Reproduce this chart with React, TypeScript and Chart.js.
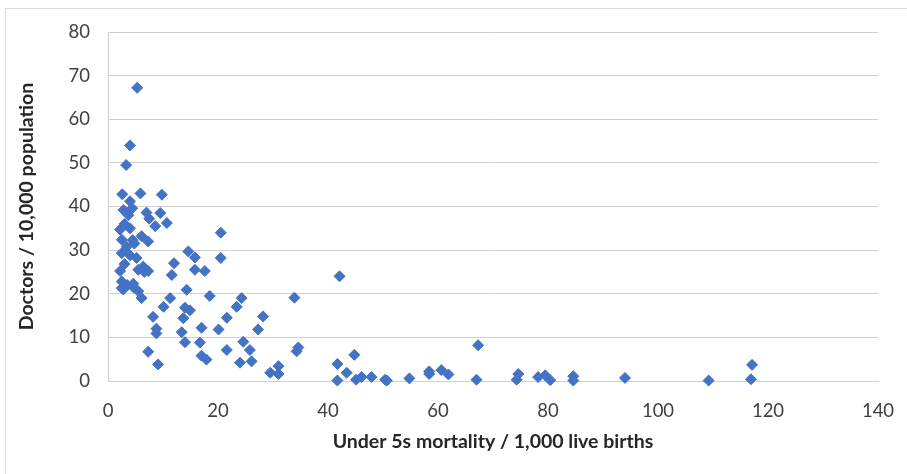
import React, { useEffect, useRef } from "react";
import { Chart, registerables } from "chart.js";

Chart.register(...registerables);

const mortality: number[] = [
  5.3, 4.0, 3.3, 2.6, 5.9, 9.8, 4.0, 2.8, 3.6, 4.4, 7.0, 9.5, 3.7, 7.5, 10.7, 8.6,
  2.2, 4.0, 3.0, 6.1, 7.3, 2.5, 4.5, 3.4, 4.8, 2.5, 5.2, 4.0, 6.4, 7.3, 6.6, 5.5,
  2.2, 3.0, 14.6, 15.8, 20.5, 20.5, 12.0, 15.8, 17.6, 11.6, 2.5, 4.6, 3.5, 2.8,
  5.5, 2.5, 4.6, 6.1, 14.3, 11.3, 18.5, 24.3, 23.4, 10.1, 8.2, 14.0, 14.9, 13.7,
  21.6, 28.2, 8.8, 8.8, 13.4, 17.0, 20.1, 27.3, 14.0, 16.7, 24.6, 7.3, 9.1, 17.0,
  17.9, 21.6, 25.8, 26.1, 24.0, 29.5, 31.0, 31.0, 33.9, 42.1, 34.6, 34.3, 41.7,
  41.7, 43.4, 44.8, 45.1, 46.1, 47.9, 50.4, 50.7, 54.8, 58.4, 58.4, 60.6, 61.9,
  67.3, 67.0, 74.6, 74.3, 78.2, 79.5, 80.4, 84.6, 84.6, 94.0, 109.2, 117.1, 116.9,
];

const doctors: number[] = [
  67.2, 54.0, 49.5, 42.8, 43.0, 42.7, 41.2, 39.2, 38.6, 39.6, 38.6, 38.5, 38.0, 37.2, 36.2, 35.5,
  34.7, 35.0, 36.0, 33.2, 32.0, 32.4, 32.3, 30.8, 31.5, 29.3, 28.2, 28.8, 26.2, 25.2, 25.0, 25.5,
  25.2, 26.8, 29.7, 28.3, 34.0, 28.2, 27.0, 25.5, 25.2, 24.3, 22.8, 22.3, 22.0, 21.0,
  20.6, 21.3, 21.5, 19.0, 20.9, 19.0, 19.5, 19.0, 17.0, 17.0, 14.7, 16.8, 16.2, 14.4,
  14.5, 14.8, 12.0, 10.9, 11.2, 12.2, 11.8, 11.8, 8.9, 8.8, 9.0, 6.7, 3.8, 5.8,
  4.9, 7.1, 7.1, 4.5, 4.2, 1.9, 3.4, 1.6, 19.1, 24.0, 7.7, 6.8, 3.9,
  0.1, 1.9, 6.0, 0.3, 0.9, 0.9, 0.3, 0.1, 0.6, 2.2, 1.6, 2.5, 1.5,
  8.2, 0.3, 1.6, 0.3, 0.9, 1.3, 0.2, 1.1, 0.1, 0.7, 0.1, 3.7, 0.4,
];

const xTitle = "Under 5s mortality / 1,000 live births";
const yTitle = "Doctors / 10,000 population";

export default function App() {
  const ref = useRef<HTMLCanvasElement | null>(null);

  useEffect(() => {
    if (!ref.current) return;
    const points = mortality.map((x, i) => ({ x, y: doctors[i] }));
    const chart = new Chart(ref.current, {
      type: "scatter",
      data: {
        datasets: [
          {
            data: points,
            pointStyle: "rectRot",
            pointRadius: 5.5,
            backgroundColor: "#4472C4",
            borderColor: "#4472C4",
            borderWidth: 1,
            clip: false,
          } as any,
        ],
      },
      options: {
        responsive: false,
        animation: false,
        layout: { padding: { left: 11, right: 29, top: 32, bottom: 17 } },
        plugins: { legend: { display: false }, tooltip: { enabled: false } },
        scales: {
          x: {
            type: "linear",
            min: 0,
            max: 140,
            grid: { display: false },
            border: { display: true, color: "#d0d0d0" },
            ticks: {
              stepSize: 20,
              padding: 11,
              color: "#404040",
              font: { family: "Lato", size: 18.5 },
            },
            title: {
              display: true,
              text: xTitle,
              color: "#262626",
              font: { family: "Lato", size: 19.5, weight: "bold" },
              padding: { top: 12, bottom: 4 },
            },
            afterFit: (scale: any) => {
              scale.height = 76;
            },
          },
          y: {
            type: "linear",
            min: 0,
            max: 80,
            grid: { color: "#d0d0d0", drawTicks: false },
            border: { display: true, color: "#d0d0d0" },
            ticks: {
              stepSize: 10,
              padding: 18,
              color: "#404040",
              font: { family: "Lato", size: 18.5 },
            },
            title: {
              display: true,
              text: yTitle,
              color: "#262626",
              font: { family: "Lato", size: 19.5, weight: "bold" },
              padding: { top: 4, bottom: 4 },
            },
            afterFit: (scale: any) => {
              scale.width = 97;
            },
          },
        },
      },
    });
    return () => chart.destroy();
  }, []);

  return (
    <div style={{ position: "absolute", left: 0, top: 0, width: 907, height: 474 }}>
      <div
        style={{
          position: "absolute",
          left: 5,
          top: 8,
          width: 902,
          height: 466,
          borderTop: "1px solid #d9d9d9",
          borderLeft: "1px solid #d9d9d9",
          boxSizing: "border-box",
        }}
      />
      <canvas ref={ref} width={907} height={474} style={{ position: "absolute", left: 0, top: 0 }} />
    </div>
  );
}
